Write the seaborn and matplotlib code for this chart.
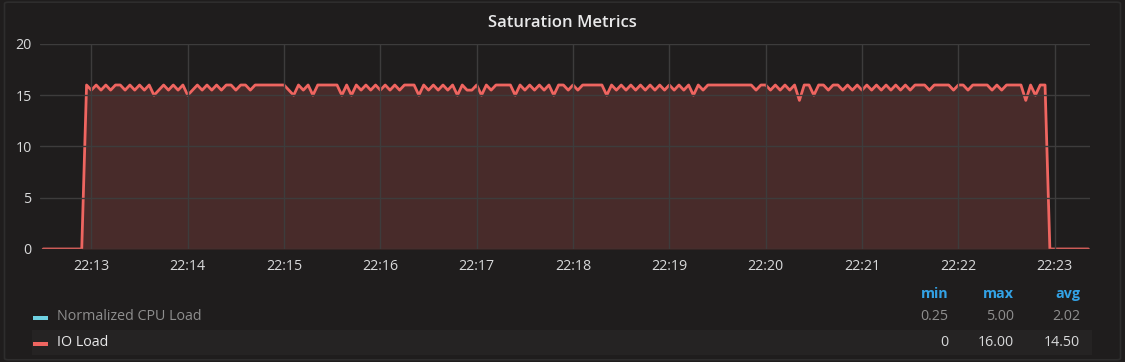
import matplotlib
matplotlib.use('Agg')
import matplotlib.pyplot as plt
import matplotlib.dates as mdates
from matplotlib.patches import Rectangle, FancyBboxPatch
import pandas as pd
import seaborn as sns

# IO Load samples, one every 3 s starting 22:12:30
io_load = [
    0, 0, 0, 0, 0, 0, 0, 0, 0,
    # 22:12:57
    16, 15.5, 16, 15.5, 16, 15.5, 16, 16, 15.5, 16,
    15.5, 16, 15.5, 16, 15, 15.5, 16, 15.5, 16, 15.5,
    16, 15, 15.5, 16, 15.5, 16, 15.5, 16, 15.5, 16,
    16, 15.5, 16, 16, 15.5, 16, 16, 16, 16, 16,
    16, 16, 15.5, 15, 16, 15.5, 16, 15, 16, 16,
    16, 16, 16, 15, 16, 15, 16, 15.5, 16, 15.5,
    16, 15.5, 16, 15.5, 16, 15.5, 16, 16, 16, 15,
    16, 15.5, 16, 15.5, 16, 15.5, 16, 15, 16, 15.5,
    15.5, 16, 15, 16, 15.5, 16, 16, 16, 16, 15,
    16, 15.5, 16, 15.5, 16, 15.5, 16, 15, 16, 16,
    15.5, 16, 15.5, 16, 16, 16, 16, 16, 15, 16,
    15.5, 16, 15.5, 16, 15.5, 16, 15.5, 16, 15.5, 16,
    15.5, 16, 15.5, 16, 15.5, 16, 15, 16, 15.5, 16,
    16, 16, 16, 16, 16, 16, 16, 16, 16, 15.5,
    16, 16, 15.5, 16, 15.5, 16, 15.5, 16, 14.5, 16,
    16, 15, 16, 16, 15.5, 16, 16, 15.5, 16, 15.5,
    16, 15.5, 16, 15.5, 16, 15.5, 16, 15.5, 16, 15.5,
    16, 15.5, 16, 16, 16, 15.5, 16, 16, 16, 16,
    15.5, 16, 16, 15.5, 16, 16, 16, 16, 15.5, 16,
    15.5, 16, 16, 16, 16, 14.5, 16, 15, 16, 16,
    # 22:22:57
    0, 0, 0, 0, 0, 0, 0, 0, 0,
]
start_time = '2020-01-01 22:12:30'

series_names = ['Normalized CPU Load', 'IO Load']
series_colors = ['#6ed0e0', '#ef6560']
stat_headers = ['min', 'max', 'avg']
stat_values = [['0.25', '5.00', '2.02'], ['0', '16.00', '14.50']]
y_ticks = [0, 5, 10, 15, 20]

bg = '#1f1d1d'
grid_c = '#3d3c3c'
text_c = '#d8d9da'

sns.set_theme(style='dark', rc={
    'figure.facecolor': bg,
    'axes.facecolor': bg,
    'axes.edgecolor': bg,
    'text.color': text_c,
    'xtick.color': text_c,
    'ytick.color': text_c,
})
plt.rcParams['font.family'] = ['Open Sans', 'DejaVu Sans']

df = pd.DataFrame({
    'time': pd.date_range(start_time, periods=len(io_load), freq='3s'),
    'value': io_load,
})

fig = plt.figure(figsize=(11.25, 3.62), dpi=100)
fig.patches.append(FancyBboxPatch((0.004, 0.006), 0.992, 0.988, boxstyle='round,pad=0,rounding_size=0.004',
                                  transform=fig.transFigure, facecolor='none',
                                  edgecolor='#2e2d2d', linewidth=1.2))
ax = fig.add_axes([40 / 1125, 113 / 362, 1050 / 1125, 205 / 362])

ax.fill_between(df['time'], df['value'], 0, color=series_colors[1], alpha=0.2, linewidth=0)
sns.lineplot(data=df, x='time', y='value', ax=ax, color=series_colors[1], linewidth=2)

ax.set_xlim(pd.Timestamp('2020-01-01 22:12:28'), pd.Timestamp('2020-01-01 22:23:22'))
ax.set_ylim(0, 20)
ax.set_yticks(y_ticks)
ax.xaxis.set_major_locator(mdates.MinuteLocator())
ax.xaxis.set_major_formatter(mdates.DateFormatter('%H:%M'))
ax.grid(True, color=grid_c, linewidth=1)
ax.set_axisbelow(False)
for s in ax.spines.values():
    s.set_visible(False)
ax.tick_params(axis='both', length=0, labelsize=10.3, pad=6)
ax.tick_params(axis='x', pad=7)
ax.set_xlabel('')
ax.set_ylabel('')

fig.text(0.5, 1 - 23 / 362, 'Saturation Metrics', ha='center', va='center',
         fontsize=12, fontweight='semibold', color='#e9e9ea')

# legend table
fig.patches.append(Rectangle((32 / 1125, 1 - 355 / 362), 1060 / 1125, 25 / 362,
                             transform=fig.transFigure, facecolor='#252323', edgecolor='none'))
header_x = [948, 1014, 1080]
for hx, h in zip(header_x, stat_headers):
    fig.text(hx / 1125, 1 - 294 / 362, h, ha='right', va='center', fontsize=10.3,
             fontweight='bold', color='#33a2e5')
row_y = [318, 344]
name_colors = ['#8e8e8e', '#e9e9ea']
val_colors = ['#8e8e8e', '#d8d9da']
for i, name in enumerate(series_names):
    y = 1 - row_y[i] / 362
    fig.patches.append(Rectangle((33 / 1125, y - 2 / 362), 15 / 1125, 4 / 362,
                                 transform=fig.transFigure, facecolor=series_colors[i], edgecolor='none'))
    fig.text(57 / 1125, y + 1 / 362, name, ha='left', va='center', fontsize=10.3, color=name_colors[i])
    for hx, v in zip(header_x, stat_values[i]):
        fig.text(hx / 1125, y + 1 / 362, v, ha='right', va='center', fontsize=10.3, color=val_colors[i])

fig.savefig('out.png', dpi=100, facecolor=bg)
